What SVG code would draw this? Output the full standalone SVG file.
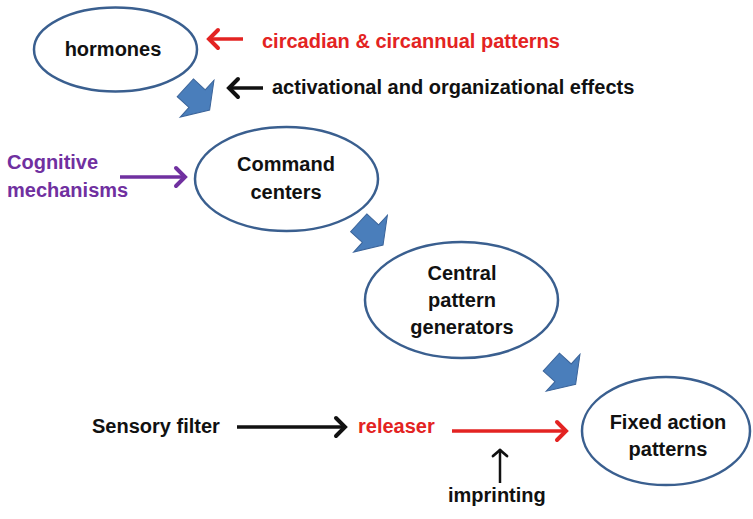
<svg xmlns="http://www.w3.org/2000/svg" width="753" height="519" viewBox="0 0 753 519">
<style>
.node ellipse{fill:#fff;stroke:#3a5f8f;stroke-width:2.5}
text{font-family:"Liberation Sans",Arial,sans-serif;font-weight:bold;font-size:20px}
.c{text-anchor:middle;fill:#111}
.red{fill:#e32322}
.blk{fill:#111}
.pur{fill:#7030a0}
.blockarrow{fill:#4a7ebb;stroke:#3b649a;stroke-width:1;stroke-linejoin:miter}
.ln{fill:none;stroke-width:3.5}
</style>
<defs>
<marker id="hr" markerUnits="userSpaceOnUse" markerWidth="30" markerHeight="30" viewBox="-15 -15 30 30" refX="0" refY="0" orient="auto">
<path d="M-10,-9 L-1,0 L-10,9" fill="none" stroke="#e32322" stroke-width="4" stroke-linecap="round" stroke-linejoin="miter"/>
</marker>
<marker id="hk" markerUnits="userSpaceOnUse" markerWidth="30" markerHeight="30" viewBox="-15 -15 30 30" refX="0" refY="0" orient="auto">
<path d="M-10,-9 L-1,0 L-10,9" fill="none" stroke="#111" stroke-width="4" stroke-linecap="round"/>
</marker>
<marker id="hks" markerUnits="userSpaceOnUse" markerWidth="30" markerHeight="30" viewBox="-15 -15 30 30" refX="0" refY="0" orient="auto">
<path d="M-7,-7 L-1,0 L-7,7" fill="none" stroke="#111" stroke-width="2.8" stroke-linecap="round"/>
</marker>
<marker id="hp" markerUnits="userSpaceOnUse" markerWidth="30" markerHeight="30" viewBox="-15 -15 30 30" refX="0" refY="0" orient="auto">
<path d="M-10,-9 L-1,0 L-10,9" fill="none" stroke="#7030a0" stroke-width="4" stroke-linecap="round"/>
</marker>
<polygon id="blk" class="blockarrow" points="0,-12 16,-12 16,-25 33,0 16,25 16,12 0,12"/>
</defs>

<g id="hormones" class="node">
<ellipse cx="115.5" cy="49.5" rx="81.5" ry="42"/>
<text class="c" x="113" y="56">hormones</text>
</g>
<g id="command-centers" class="node">
<ellipse cx="286.5" cy="179" rx="91.5" ry="52"/>
<text class="c" x="286" y="171">Command</text>
<text class="c" x="286" y="199">centers</text>
</g>
<g id="central-pattern-generators" class="node">
<ellipse cx="461.5" cy="300" rx="96.5" ry="58"/>
<text class="c" x="462" y="280">Central</text>
<text class="c" x="462" y="307">pattern</text>
<text class="c" x="462" y="334">generators</text>
</g>
<g id="fixed-action-patterns" class="node">
<ellipse cx="666" cy="431" rx="84" ry="54"/>
<text class="c" x="668" y="429">Fixed action</text>
<text class="c" x="668" y="456">patterns</text>
</g>

<g id="labels">
<text class="red" x="262" y="48">circadian &amp; circannual patterns</text>
<text class="blk" x="272" y="94">activational and organizational effects</text>
<text class="pur" x="7" y="169">Cognitive</text>
<text class="pur" x="7" y="197">mechanisms</text>
<text class="blk" x="92" y="433">Sensory filter</text>
<text class="red" x="358" y="433">releaser</text>
<text class="blk" x="448" y="502">imprinting</text>
</g>

<g id="connectors">
<use href="#blk" transform="translate(185.3,87.8) rotate(42.5)"/>
<use href="#blk" transform="translate(358.7,222.8) rotate(42.5)"/>
<use href="#blk" transform="translate(551.3,362) rotate(42.5)"/>
<line class="ln" x1="243" y1="39" x2="208" y2="39" stroke="#e32322" marker-end="url(#hr)"/>
<line class="ln" x1="263" y1="88" x2="228" y2="88" stroke="#111" marker-end="url(#hk)"/>
<line class="ln" x1="120" y1="177" x2="186" y2="177" stroke="#7030a0" marker-end="url(#hp)"/>
<line class="ln" x1="237" y1="427" x2="346" y2="427" stroke="#111" marker-end="url(#hk)"/>
<line class="ln" x1="452" y1="431" x2="567" y2="431" stroke="#e32322" marker-end="url(#hr)"/>
<line x1="500" y1="483" x2="500" y2="449" stroke="#111" stroke-width="2.5" marker-end="url(#hks)"/>
</g>
</svg>
